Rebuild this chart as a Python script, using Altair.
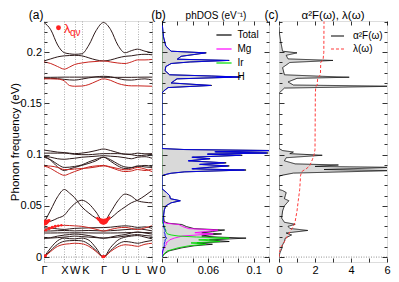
import altair as alt
import pandas as pd

FONT = "Liberation Sans"
RED = "#ff2020"

# ---------------- band structure (panel a) ----------------
K_SYM = [0.0, 1.0, 1.5, 1.854, 2.915, 3.976, 4.588, 5.295]
K_LABELS = ["Γ", "X", "W", "K", "Γ", "U", "L", "W"]
K_PTS = [0.0, 0.33, 0.67, 1.0, 1.25, 1.5, 1.854, 2.2, 2.55, 2.915,
         3.27, 3.62, 3.976, 4.28, 4.588, 4.95, 5.295]

BANDS_DARK = {
    "ac2": [0, 0.0065, 0.0125, 0.0155, 0.016, 0.0162, 0.0158, 0.0125, 0.0065, 0, 0.0065, 0.0125, 0.0152, 0.0145, 0.0135, 0.015, 0.0162],
    "ac3": [0, 0.009, 0.016, 0.0185, 0.018, 0.0178, 0.0185, 0.0165, 0.009, 0, 0.0095, 0.0165, 0.0195, 0.0205, 0.021, 0.0195, 0.0178],
    "lo1": [0.0185, 0.0186, 0.019, 0.0195, 0.020, 0.0205, 0.020, 0.0195, 0.019, 0.0185, 0.019, 0.0195, 0.0205, 0.0215, 0.022, 0.021, 0.0205],
    "lo2": [0.0185, 0.019, 0.0205, 0.0215, 0.022, 0.0225, 0.022, 0.021, 0.0195, 0.0185, 0.0195, 0.021, 0.022, 0.0235, 0.0245, 0.0235, 0.0225],
    "lo3": [0.0235, 0.0235, 0.0236, 0.0237, 0.0237, 0.0237, 0.0237, 0.0236, 0.0235, 0.0235, 0.0235, 0.0236, 0.0238, 0.024, 0.0242, 0.024, 0.0237],
    "lo4": [0.0255, 0.0255, 0.0258, 0.026, 0.0258, 0.0256, 0.0258, 0.026, 0.0258, 0.0255, 0.0258, 0.0262, 0.0268, 0.0272, 0.0275, 0.0268, 0.0256],
    "lo6": [0.0285, 0.0283, 0.0275, 0.027, 0.0275, 0.028, 0.0283, 0.0285, 0.0287, 0.0288, 0.0292, 0.030, 0.0305, 0.030, 0.029, 0.0295, 0.028],
    "m1": [0.0335, 0.046, 0.059, 0.066, 0.0625, 0.058, 0.049, 0.043, 0.038, 0.0345, 0.044, 0.055, 0.0615, 0.0595, 0.055, 0.0535, 0.053],
    "m2": [0.0335, 0.035, 0.038, 0.041, 0.047, 0.052, 0.0555, 0.052, 0.044, 0.0345, 0.038, 0.044, 0.049, 0.053, 0.0555, 0.060, 0.065],
    "u1": [0.1045, 0.1035, 0.1025, 0.102, 0.1015, 0.101, 0.1015, 0.1025, 0.104, 0.1055, 0.104, 0.102, 0.1005, 0.1005, 0.1015, 0.1008, 0.101],
    "u2": [0.1015, 0.1015, 0.1015, 0.1015, 0.101, 0.1003, 0.100, 0.100, 0.1005, 0.101, 0.101, 0.101, 0.1005, 0.100, 0.099, 0.0995, 0.1003],
    "u3": [0.0985, 0.0975, 0.096, 0.0955, 0.096, 0.0965, 0.0975, 0.098, 0.0985, 0.099, 0.0985, 0.098, 0.097, 0.096, 0.0975, 0.098, 0.0965],
    "u4": [0.0975, 0.095, 0.0905, 0.0875, 0.0878, 0.0885, 0.090, 0.093, 0.0955, 0.0975, 0.095, 0.091, 0.088, 0.0875, 0.0885, 0.0895, 0.0885],
    "u7": [0.0985, 0.0945, 0.088, 0.0845, 0.086, 0.0875, 0.0895, 0.0915, 0.094, 0.0975, 0.0935, 0.089, 0.0865, 0.087, 0.089, 0.088, 0.0875],
    "t1": [0.229, 0.222, 0.207, 0.1995, 0.1985, 0.198, 0.1985, 0.207, 0.221, 0.229, 0.222, 0.207, 0.1995, 0.2015, 0.203, 0.201, 0.1995],
    "t2": [0.1915, 0.1935, 0.1955, 0.1965, 0.1968, 0.197, 0.1965, 0.1945, 0.1925, 0.1915, 0.1925, 0.1945, 0.196, 0.1965, 0.1975, 0.198, 0.1975],
    "t4": [0.1755, 0.1755, 0.1756, 0.1757, 0.1757, 0.1757, 0.1757, 0.1758, 0.1758, 0.1755, 0.1755, 0.1755, 0.1755, 0.1755, 0.1756, 0.1757, 0.1757],
    "t5": [0.1745, 0.1745, 0.1742, 0.1735, 0.173, 0.1728, 0.1738, 0.175, 0.176, 0.1765, 0.176, 0.1745, 0.173, 0.1728, 0.1735, 0.174, 0.1728],
}
BANDS_RED = {
    "ac1": [0, 0.0055, 0.0105, 0.0125, 0.013, 0.0135, 0.013, 0.0105, 0.0055, 0, 0.0055, 0.010, 0.012, 0.0115, 0.0105, 0.0125, 0.0135],
    "lo5": [0.0255, 0.0285, 0.0305, 0.031, 0.0308, 0.0305, 0.0300, 0.0288, 0.0272, 0.0255, 0.027, 0.0285, 0.029, 0.028, 0.0268, 0.0285, 0.0305],
    "u5": [0.089, 0.0865, 0.0825, 0.0798, 0.0815, 0.0835, 0.086, 0.088, 0.089, 0.0895, 0.088, 0.0865, 0.0852, 0.0858, 0.0875, 0.086, 0.0835],
    "u6": [0.089, 0.0888, 0.0875, 0.0855, 0.0855, 0.086, 0.0865, 0.087, 0.088, 0.089, 0.0875, 0.085, 0.0835, 0.084, 0.0855, 0.0845, 0.086],
    "t3": [0.1905, 0.189, 0.186, 0.1835, 0.1855, 0.188, 0.1895, 0.1905, 0.191, 0.1915, 0.1905, 0.1895, 0.189, 0.1905, 0.1925, 0.1925, 0.193],
    "t6": [0.174, 0.174, 0.1738, 0.172, 0.1675, 0.1668, 0.1670, 0.1685, 0.1715, 0.174, 0.1725, 0.1695, 0.1678, 0.1672, 0.1672, 0.1670, 0.1668],
}

# lambda_qv bubbles
BUB_K = [0.0, 0.06, 0.12, 0.18, 0.25,
         0.1, 0.25, 0.4, 0.55, 0.7, 0.85,
         2.915, 2.85, 2.98, 2.78, 3.05, 2.7, 3.12, 2.62, 3.2,
         0.04, 0.08, 2.89, 2.95]
BUB_E = [0.0335, 0.0338, 0.0343, 0.035, 0.0357,
         0.0265, 0.028, 0.029, 0.030, 0.0305, 0.031,
         0.0345, 0.0348, 0.0348, 0.0356, 0.0356, 0.0368, 0.037, 0.038, 0.0385,
         0.0008, 0.0016, 0.0004, 0.0005]
BUB_LAM = [1.0, 0.8, 0.6, 0.4, 0.25,
           0.25, 0.3, 0.3, 0.28, 0.22, 0.18,
           1.0, 0.85, 0.85, 0.6, 0.6, 0.35, 0.35, 0.2, 0.2,
           0.3, 0.2, 0.3, 0.25]

# ---------------- phonon DOS (panel b) ----------------
DOS_E = [0.000, 0.003, 0.006, 0.009, 0.011, 0.0125, 0.0138, 0.0152, 0.0168, 0.0185,
         0.0196, 0.0206, 0.0216, 0.0226, 0.0238, 0.0250, 0.0264, 0.0278, 0.0298, 0.0318,
         0.0330, 0.0345, 0.0400, 0.0460, 0.0500, 0.0530, 0.0550, 0.0570, 0.0600, 0.0630,
         0.0655, 0.0665, 0.0795, 0.0805, 0.0818, 0.0832, 0.0850, 0.0862, 0.0876, 0.0890,
         0.0905, 0.0920, 0.0940, 0.0960, 0.0975, 0.0994, 0.1005, 0.1016, 0.1028, 0.1040,
         0.1050, 0.1060, 0.1600, 0.1620, 0.1655, 0.1676, 0.1700, 0.1740, 0.1758, 0.1768,
         0.1780, 0.1820, 0.1860, 0.1890, 0.1905, 0.1920, 0.1932, 0.1960, 0.1994, 0.2010,
         0.2060, 0.2150, 0.2260, 0.2300]
DOS_TOTAL = [0, 0.003, 0.009, 0.026, 0.042, 0.066, 0.046, 0.088, 0.062, 0.110,
             0.072, 0.052, 0.062, 0.078, 0.052, 0.066, 0.082, 0.042, 0.032, 0.026,
             0.009, 0.003, 0.002, 0.003, 0.005, 0.012, 0.024, 0.011, 0.010, 0.006,
             0.002, 0, 0, 0.004, 0.012, 0.030, 0.110, 0.040, 0.062, 0.088,
             0.050, 0.084, 0.035, 0.063, 0.040, 0.105, 0.060, 0.139, 0.070, 0.150,
             0.030, 0, 0, 0.002, 0.008, 0.065, 0.012, 0.020, 0.103, 0.065,
             0.010, 0.004, 0.005, 0.012, 0.037, 0.088, 0.020, 0.025, 0.058, 0.012,
             0.005, 0.002, 0.0005, 0]
DOS_MG = [0, 0.0005, 0.001, 0.003, 0.004, 0.006, 0.005, 0.008, 0.010, 0.016,
          0.022, 0.027, 0.046, 0.067, 0.043, 0.057, 0.073, 0.035, 0.027, 0.022,
          0.006, 0.001, 0, 0, 0, 0, 0, 0, 0, 0,
          0, 0, 0, 0, 0, 0, 0, 0, 0, 0,
          0, 0, 0, 0, 0, 0, 0, 0, 0, 0,
          0, 0, 0, 0, 0, 0, 0, 0, 0, 0,
          0, 0, 0, 0, 0, 0, 0, 0, 0, 0,
          0, 0, 0, 0]
DOS_IR = [0, 0.0025, 0.007, 0.021, 0.035, 0.057, 0.038, 0.076, 0.048, 0.088,
          0.045, 0.021, 0.012, 0.007, 0.006, 0.005, 0.005, 0.004, 0.003, 0.002,
          0.001, 0.0005, 0, 0, 0, 0, 0, 0, 0, 0,
          0, 0, 0, 0, 0, 0, 0, 0, 0, 0,
          0, 0, 0, 0, 0, 0, 0, 0, 0, 0,
          0, 0, 0, 0, 0, 0, 0, 0, 0, 0,
          0, 0, 0, 0, 0, 0, 0, 0, 0, 0,
          0, 0, 0, 0]
DOS_H = [0, 0, 0.001, 0.002, 0.003, 0.003, 0.003, 0.004, 0.004, 0.006,
         0.005, 0.004, 0.004, 0.004, 0.003, 0.004, 0.004, 0.003, 0.002, 0.002,
         0.002, 0.0015, 0.002, 0.003, 0.005, 0.012, 0.024, 0.011, 0.010, 0.006,
         0.002, 0, 0, 0.004, 0.011, 0.029, 0.108, 0.039, 0.060, 0.086,
         0.049, 0.082, 0.034, 0.062, 0.039, 0.103, 0.059, 0.137, 0.069, 0.148,
         0.029, 0, 0, 0.002, 0.008, 0.064, 0.012, 0.019, 0.101, 0.064,
         0.010, 0.004, 0.005, 0.012, 0.036, 0.087, 0.020, 0.025, 0.057, 0.012,
         0.005, 0.002, 0.0005, 0]
SPECIES = ["Total", "Mg", "Ir", "H"]
SPECIES_COLORS = ["#000000", "#ff00ff", "#00dd00", "#0000ee"]

# ---------------- Eliashberg function (panel c) ----------------
A2F_E = [0, 0.004, 0.008, 0.012, 0.0152, 0.0185, 0.0216, 0.0235, 0.026, 0.028,
         0.030, 0.032, 0.034, 0.038, 0.045, 0.050, 0.053, 0.055, 0.057, 0.060,
         0.063, 0.065, 0.066, 0.079, 0.080, 0.082, 0.0845, 0.0855, 0.0876, 0.0885,
         0.0899, 0.091, 0.094, 0.097, 0.0994, 0.101, 0.1026, 0.104, 0.106, 0.160,
         0.165, 0.1668, 0.168, 0.171, 0.1745, 0.1756, 0.1765, 0.178, 0.185, 0.190,
         0.192, 0.1935, 0.197, 0.1994, 0.201, 0.210, 0.219, 0.225]
A2F = [0, 0.05, 0.15, 0.2, 0.3, 0.35, 0.7, 0.4, 1.6, 0.6,
       0.5, 0.9, 0.3, 0.15, 0.2, 0.3, 0.45, 0.55, 0.3, 0.35,
       0.4, 0.2, 0, 0, 0.2, 0.8, 6.5, 2.5, 6.5, 2.0,
       3.3, 0.9, 0.3, 0.4, 2.4, 0.6, 0.8, 0.2, 0, 0,
       0.3, 6.5, 0.8, 0.5, 1.0, 3.9, 2.4, 0.3, 0.2, 0.6,
       3.0, 0.5, 0.4, 1.0, 0.2, 0.1, 0.02, 0]
LAM_E = [0, 0.005, 0.01, 0.015, 0.02, 0.025, 0.03, 0.035, 0.045, 0.055,
         0.066, 0.080, 0.084, 0.086, 0.089, 0.095, 0.100, 0.105, 0.160, 0.166,
         0.168, 0.175, 0.178, 0.190, 0.193, 0.200, 0.230]
LAM = [0, 0.03, 0.12, 0.3, 0.45, 0.62, 0.8, 0.9, 1.0, 1.07,
       1.15, 1.2, 1.3, 1.5, 1.7, 1.85, 1.95, 2.0, 2.02, 2.04,
       2.12, 2.15, 2.3, 2.32, 2.45, 2.49, 2.5]
ELI_SERIES = ["α²F(ω)", "λ(ω)"]

# ---------------- frames ----------------
Y_DOM = [-0.0048, 0.2305]
Y_MAJOR = [0, 0.05, 0.1, 0.15, 0.2]
Y_MINOR = [round(0.01 * i, 3) for i in range(24) if i % 5 != 0]
B_TICKS = [round(0.02 * i, 2) for i in range(8)]
C_TICKS = [0, 1, 2, 3, 4, 5, 6]
H = 241
WA, WB, WC = 108, 107, 108

ys = alt.Scale(domain=Y_DOM, nice=False, zero=False)
xa = alt.Scale(domain=[0, 5.295], nice=False, zero=False)
xb = alt.Scale(domain=[0, 0.14], nice=False, zero=False)
xc = alt.Scale(domain=[0, 6], nice=False, zero=False)


def tick_axis(orient, values, size):
    return alt.Axis(orient=orient, values=values, offset=-size, tickSize=size,
                    labels=False, domain=False, grid=False, ticks=True, title=None,
                    tickColor="black", tickWidth=0.8, zindex=3)


def frame_ticks(xscale, x0, xticks):
    df = pd.DataFrame({"x": [x0], "y": [0.0]})
    base = alt.Chart(df).mark_point(opacity=0)
    specs = [
        (tick_axis("bottom", xticks, 4) if xticks else None, tick_axis("left", Y_MAJOR, 5)),
        (tick_axis("top", xticks, 4) if xticks else None, tick_axis("left", Y_MINOR, 3)),
        (None, tick_axis("right", Y_MAJOR, 5)),
        (None, tick_axis("right", Y_MINOR, 3)),
    ]
    return [base.encode(x=alt.X("x:Q", scale=xscale, axis=xa_),
                        y=alt.Y("y:Q", scale=ys, axis=ya_)) for xa_, ya_ in specs]


def zero_rule():
    return alt.Chart(pd.DataFrame({"E": [0.0]})).mark_rule(
        color="#888888", strokeDash=[1, 1.5], strokeWidth=0.9
    ).encode(y=alt.Y("E:Q", scale=ys, axis=None))


def top_text(txt, dx, align, size):
    return alt.Chart(pd.DataFrame({"t": [txt]})).mark_text(
        align=align, baseline="alphabetic", fontSize=size, font=FONT, color="black"
    ).encode(x=alt.value(dx), y=alt.value(-2.5), text="t:N")


# ---------------- panel a ----------------
rows = []
for tone, group in (("dark", BANDS_DARK), ("red", BANDS_RED)):
    for name, vals in group.items():
        for k, e in zip(K_PTS, vals):
            rows.append({"branch": name, "tone": tone, "k": k, "E": e})
df_bands = pd.DataFrame(rows)
df_bub = pd.DataFrame({"k": BUB_K, "E": BUB_E, "lam": BUB_LAM})

label_expr = " : ".join(
    f"abs(datum.value - {v}) < 0.01 ? '{l}'" for v, l in zip(K_SYM, K_LABELS)
) + " : ''"
k_point = K_SYM[K_LABELS.index("K")]

x_axis_a = alt.Axis(values=K_SYM, labelExpr=label_expr, grid=True, gridDash=[1, 1.5],
                    gridColor="#999999", gridWidth=0.8, ticks=False, domain=False,
                    labelFontSize=11, labelPadding=2, labelOverlap=False, labelFlush=False,
                    labelAlign={"condition": {"test": f"abs(datum.value - {k_point}) < 0.01",
                                              "value": "left"},
                                "value": "center"},
                    labelColor="black", title=None)
y_axis_a = alt.Axis(values=Y_MAJOR, format="~g", ticks=False, domain=False, grid=False,
                    labelFontSize=11, labelPadding=2.5, labelColor="black",
                    title="Phonon frequency (eV)", titleFontSize=11.5, titleFontWeight="normal",
                    titlePadding=0, titleColor="black")

bands_dark = alt.Chart(df_bands).transform_filter("datum.tone == 'dark'").mark_line(
    interpolate="monotone", color="#2e1a1a", strokeWidth=1.0, clip=True
).encode(x=alt.X("k:Q", scale=xa, axis=x_axis_a),
         y=alt.Y("E:Q", scale=ys, axis=y_axis_a), detail="branch:N")
bands_red = alt.Chart(df_bands).transform_filter("datum.tone == 'red'").mark_line(
    interpolate="monotone", color="#c8241e", strokeWidth=1.0, clip=True
).encode(x=alt.X("k:Q", scale=xa, axis=None),
         y=alt.Y("E:Q", scale=ys, axis=None), detail="branch:N")
bubbles = alt.Chart(df_bub).mark_circle(color=RED, opacity=1, clip=True).encode(
    x=alt.X("k:Q", scale=xa, axis=None), y=alt.Y("E:Q", scale=ys, axis=None),
    size=alt.Size("lam:Q", scale=alt.Scale(domain=[0, 1], range=[0, 34]), legend=None))

ann_dot = alt.Chart(pd.DataFrame({"t": ["dot"]})).mark_circle(color=RED, size=24, opacity=1).encode(
    x=alt.value(14.5), y=alt.value(6.8))
ann_lam = alt.Chart(pd.DataFrame({"t": ["λ"]})).mark_text(
    align="left", baseline="alphabetic", fontSize=13, font=FONT, color=RED
).encode(x=alt.value(20), y=alt.value(12.3), text="t:N")
ann_sub = alt.Chart(pd.DataFrame({"t": ["qν"]})).mark_text(
    align="left", baseline="alphabetic", fontSize=10, font=FONT, color=RED
).encode(x=alt.value(26), y=alt.value(14.5), text="t:N")

panel_a = alt.layer(
    bands_dark, bands_red, zero_rule(), bubbles, ann_dot, ann_lam, ann_sub,
    top_text("(a)", -0.5, "right", 12), *frame_ticks(xa, 0.0, None)
).resolve_axis(x="independent", y="independent").properties(width=WA, height=H)

# ---------------- panel b ----------------
df_dos = pd.DataFrame({
    "E": DOS_E * 4,
    "dos": DOS_TOTAL + DOS_MG + DOS_IR + DOS_H,
    "species": [s for s in SPECIES for _ in DOS_E],
})
sp_scale = alt.Scale(domain=SPECIES, range=SPECIES_COLORS)
legend_b = alt.Legend(orient="none", legendX=53.5, legendY=5.5, title=None, symbolType="stroke",
                      symbolSize=230, symbolStrokeWidth=1.2, labelFontSize=10, labelFont=FONT,
                      labelOffset=5, rowPadding=-5, padding=0, labelColor="black")
x_axis_b = alt.Axis(values=[0, 0.06, 0.12], format="~g", ticks=False, domain=False, grid=False,
                    labelFontSize=11, labelPadding=2, labelFlush=False, labelOverlap=False,
                    labelColor="black", title=None)

fill_b = alt.Chart(df_dos).transform_filter("datum.species == 'Total'").mark_area(
    orient="horizontal", color="#d9d9d9", clip=True
).encode(x=alt.X("dos:Q", scale=xb, axis=x_axis_b), y=alt.Y("E:Q", scale=ys, axis=None))
line_tot = alt.Chart(df_dos).transform_filter("datum.species == 'Total'").mark_line(
    clip=True, strokeWidth=0.8
).encode(x=alt.X("dos:Q", scale=xb, axis=None), y=alt.Y("E:Q", scale=ys, axis=None),
         order=alt.Order("E:Q"), color=alt.Color("species:N", scale=sp_scale, legend=legend_b))
line_sp = alt.Chart(df_dos).transform_filter("datum.species != 'Total'").mark_line(
    clip=True, strokeWidth=0.9
).encode(x=alt.X("dos:Q", scale=xb, axis=None), y=alt.Y("E:Q", scale=ys, axis=None),
         order=alt.Order("E:Q"), color=alt.Color("species:N", scale=sp_scale, legend=legend_b))

panel_b = alt.layer(
    fill_b, line_tot, line_sp, zero_rule(),
    top_text("(b)", -3.5, "center", 12), top_text("phDOS (eV⁻¹)", 54, "center", 10),
    *frame_ticks(xb, 0.0, B_TICKS)
).resolve_axis(x="independent", y="independent").properties(width=WB, height=H)

# ---------------- panel c ----------------
df_a2f = pd.DataFrame({"E": A2F_E, "v": A2F, "series": ELI_SERIES[0]})
df_lam = pd.DataFrame({"E": LAM_E, "v": LAM, "series": ELI_SERIES[1]})
eli_color = alt.Scale(domain=ELI_SERIES, range=["#000000", "#ff3a3a"])
eli_dash = alt.Scale(domain=ELI_SERIES, range=[[1, 0], [3, 2]])
legend_c = alt.Legend(orient="none", legendX=51, legendY=7.5, title=None, symbolType="stroke",
                      symbolSize=170, symbolStrokeWidth=1.1, labelFontSize=10, labelFont=FONT,
                      labelOffset=8, rowPadding=0, padding=0, labelColor="black")
x_axis_c = alt.Axis(values=[0, 2, 4, 6], ticks=False, domain=False, grid=False,
                    labelFontSize=11, labelPadding=2, labelFlush=False, labelOverlap=False,
                    labelColor="black", title=None)

fill_c = alt.Chart(df_a2f).mark_area(orient="horizontal", color="#d9d9d9", clip=True).encode(
    x=alt.X("v:Q", scale=xc, axis=x_axis_c), y=alt.Y("E:Q", scale=ys, axis=None))
line_a2f = alt.Chart(df_a2f).mark_line(clip=True, strokeWidth=0.8).encode(
    x=alt.X("v:Q", scale=xc, axis=None), y=alt.Y("E:Q", scale=ys, axis=None),
    order=alt.Order("E:Q"),
    color=alt.Color("series:N", scale=eli_color, legend=legend_c),
    strokeDash=alt.StrokeDash("series:N", scale=eli_dash, legend=legend_c))
line_lam = alt.Chart(df_lam).mark_line(clip=True, strokeWidth=1).encode(
    x=alt.X("v:Q", scale=xc, axis=None), y=alt.Y("E:Q", scale=ys, axis=None),
    order=alt.Order("E:Q"),
    color=alt.Color("series:N", scale=eli_color, legend=legend_c),
    strokeDash=alt.StrokeDash("series:N", scale=eli_dash, legend=legend_c))

panel_c = alt.layer(
    fill_c, line_a2f, line_lam, zero_rule(),
    top_text("(c)", -0.5, "right", 12), top_text("α²F(ω), λ(ω)", 54, "center", 11.5),
    *frame_ticks(xc, 0.0, C_TICKS)
).resolve_axis(x="independent", y="independent").properties(width=WC, height=H)

chart = alt.hconcat(panel_a, panel_b, panel_c, spacing=10, bounds="flush").resolve_scale(
    color="independent", strokeDash="independent", size="independent"
).properties(
    padding={"left": 0, "top": 0, "right": 0, "bottom": 0}
).configure_view(stroke="black", strokeWidth=1).configure(font=FONT)

chart.save("out.html", embed_options={"renderer": "svg", "actions": False})
